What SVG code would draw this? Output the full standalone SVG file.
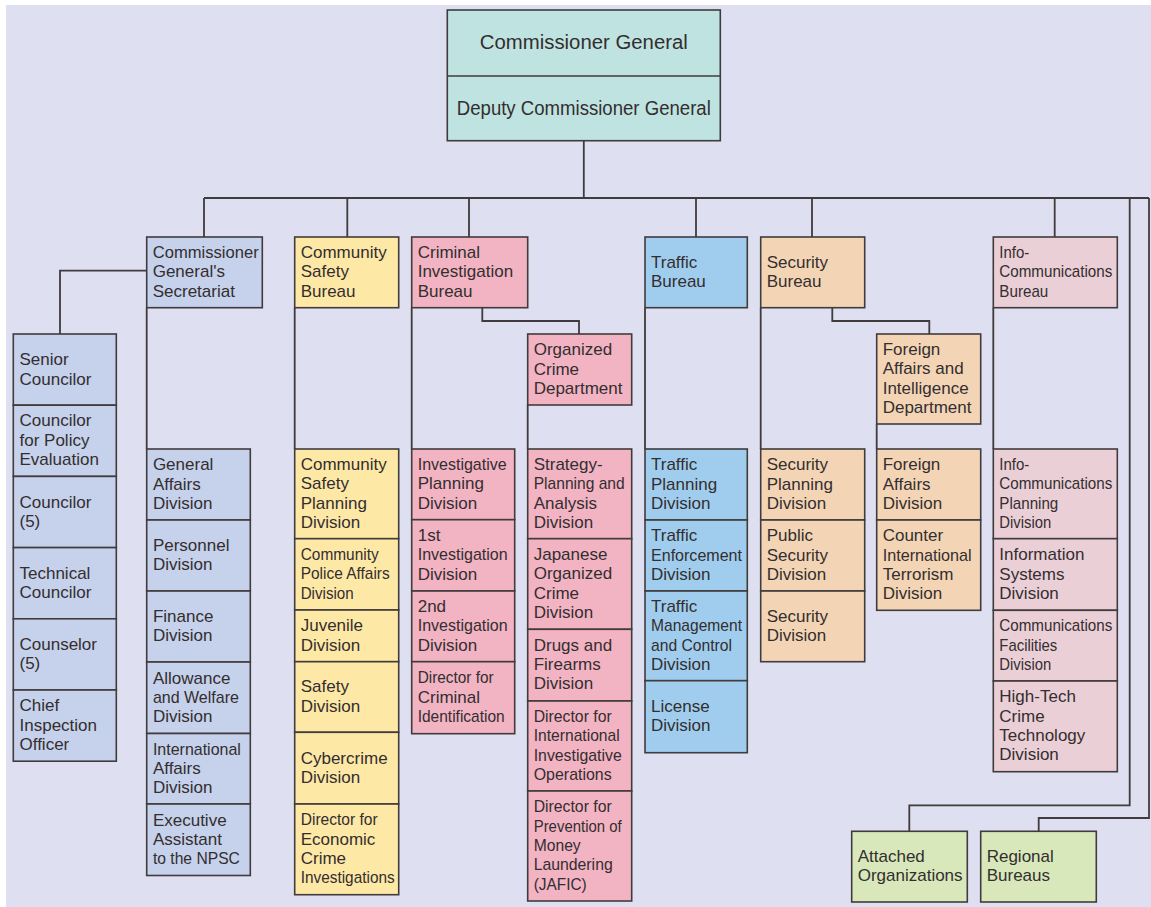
<svg xmlns="http://www.w3.org/2000/svg" width="1151" height="907" viewBox="0 0 1151 907">
<style>
.bx{stroke:#403b3c;stroke-width:1.6}
.t{font-family:"Liberation Sans",Arial,Helvetica,sans-serif;font-size:17px;fill:#332e2f}
.tc{font-family:"Liberation Sans",Arial,Helvetica,sans-serif;font-size:20px;fill:#332e2f;text-anchor:middle}
.teal{fill:#bfe3e0}.blu{fill:#c6d1eb}.yel{fill:#fee8a6}.pnk{fill:#f2b3c3}.tbl{fill:#a0cdee}.org{fill:#f3d5b6}.ipk{fill:#ebcfd7}.grn{fill:#d8e8bb}
.ln{fill:none;stroke:#403b3c;stroke-width:1.8}
</style>
<rect x="6" y="5" width="1145" height="902" fill="#dedff0"/>
<g id="connectors">
<path class="ln" d="M583.8 140.7V198M204 198H1149M204 198V237M347.3 198V237M469 198V237M696 198V237M812 198V237M1054.7 198V237"/>
<path class="ln" d="M146.7 270.7H60V334M146.7 307.7V449M294.7 307.7V449M411.7 307.7V449M482.3 307.7V321H579V334M527.7 405V449M645 307.7V449M760.7 307.7V449M832.3 307.7V321H929.3V334M876.7 424V449M993.3 307.7V449"/>
<path class="ln" d="M1129.7 198V805.3H909.3V831.3M1149 198V818H1038.7V831.3"/>
</g>
<g id="top">
<rect class="bx teal" x="447.3" y="10" width="273" height="130.7"/>
<line x1="447.3" y1="76" x2="720.3" y2="76" stroke="#403b3c" stroke-width="1.6"/>
<text class="tc" x="583.8" y="49" textLength="208" lengthAdjust="spacingAndGlyphs">Commissioner General</text>
<text class="tc" x="583.8" y="115" textLength="254" lengthAdjust="spacingAndGlyphs">Deputy Commissioner General</text>
</g>
<g id="secretariat"><rect class="bx blu" x="146.7" y="237" width="115.6" height="70.7"/>
<text class="t" x="152.7" y="258" textLength="106" lengthAdjust="spacingAndGlyphs">Commissioner</text><text class="t" x="152.7" y="277.3">General's</text><text class="t" x="152.7" y="296.6">Secretariat</text></g>
<g id="cs-bureau"><rect class="bx yel" x="294.7" y="237" width="104" height="70.7"/>
<text class="t" x="300.7" y="258">Community</text><text class="t" x="300.7" y="277.3">Safety</text><text class="t" x="300.7" y="296.6">Bureau</text></g>
<g id="cib"><rect class="bx pnk" x="411.7" y="237" width="116" height="70.7"/>
<text class="t" x="417.7" y="258">Criminal</text><text class="t" x="417.7" y="277.3">Investigation</text><text class="t" x="417.7" y="296.6">Bureau</text></g>
<g id="traffic-bureau"><rect class="bx tbl" x="645" y="237" width="102.3" height="70.7"/>
<text class="t" x="651" y="267.7">Traffic</text><text class="t" x="651" y="287">Bureau</text></g>
<g id="security-bureau"><rect class="bx org" x="760.7" y="237" width="104" height="70.7"/>
<text class="t" x="766.7" y="267.7">Security</text><text class="t" x="766.7" y="287">Bureau</text></g>
<g id="info-bureau"><rect class="bx ipk" x="993.3" y="237" width="124" height="70.7"/>
<text class="t" x="999.3" y="258" textLength="30" lengthAdjust="spacingAndGlyphs">Info-</text><text class="t" x="999.3" y="277.3" textLength="113" lengthAdjust="spacingAndGlyphs">Communications</text><text class="t" x="999.3" y="296.6" textLength="49" lengthAdjust="spacingAndGlyphs">Bureau</text></g>
<g id="ocd"><rect class="bx pnk" x="527.7" y="334" width="104" height="71"/>
<text class="t" x="533.7" y="355.2">Organized</text><text class="t" x="533.7" y="374.5">Crime</text><text class="t" x="533.7" y="393.8">Department</text></g>
<g id="faid"><rect class="bx org" x="876.7" y="334" width="104" height="90"/>
<text class="t" x="882.7" y="355">Foreign</text><text class="t" x="882.7" y="374.3">Affairs and</text><text class="t" x="882.7" y="393.6">Intelligence</text><text class="t" x="882.7" y="412.9">Department</text></g>
<g id="senior-councilor"><rect class="bx blu" x="13.3" y="334" width="103" height="71.2"/>
<text class="t" x="19.5" y="365.2">Senior</text><text class="t" x="19.5" y="384.5">Councilor</text></g>
<g id="councilor-policy"><rect class="bx blu" x="13.3" y="405.2" width="103" height="71.2"/>
<text class="t" x="19.5" y="426.4">Councilor</text><text class="t" x="19.5" y="445.7">for Policy</text><text class="t" x="19.5" y="465">Evaluation</text></g>
<g id="councilor"><rect class="bx blu" x="13.3" y="476.4" width="103" height="71.2"/>
<text class="t" x="19.5" y="507.6">Councilor</text><text class="t" x="19.5" y="526.9">(5)</text></g>
<g id="technical-councilor"><rect class="bx blu" x="13.3" y="547.6" width="103" height="71.2"/>
<text class="t" x="19.5" y="578.8">Technical</text><text class="t" x="19.5" y="598.1">Councilor</text></g>
<g id="counselor"><rect class="bx blu" x="13.3" y="618.8" width="103" height="71.2"/>
<text class="t" x="19.5" y="650">Counselor</text><text class="t" x="19.5" y="669.3">(5)</text></g>
<g id="chief-inspection"><rect class="bx blu" x="13.3" y="690" width="103" height="71.2"/>
<text class="t" x="19.5" y="711.2">Chief</text><text class="t" x="19.5" y="730.5">Inspection</text><text class="t" x="19.5" y="749.8">Officer</text></g>
<g id="general-affairs"><rect class="bx blu" x="146.7" y="449" width="103.6" height="71"/>
<text class="t" x="152.9" y="470.2">General</text><text class="t" x="152.9" y="489.5">Affairs</text><text class="t" x="152.9" y="508.8">Division</text></g>
<g id="personnel"><rect class="bx blu" x="146.7" y="520" width="103.6" height="71"/>
<text class="t" x="152.9" y="550.9">Personnel</text><text class="t" x="152.9" y="570.2">Division</text></g>
<g id="finance"><rect class="bx blu" x="146.7" y="591" width="103.6" height="71"/>
<text class="t" x="152.9" y="621.9">Finance</text><text class="t" x="152.9" y="641.2">Division</text></g>
<g id="allowance"><rect class="bx blu" x="146.7" y="662" width="103.6" height="71.5"/>
<text class="t" x="152.9" y="683.5">Allowance</text><text class="t" x="152.9" y="702.8" textLength="86" lengthAdjust="spacingAndGlyphs">and Welfare</text><text class="t" x="152.9" y="722.1">Division</text></g>
<g id="international-affairs"><rect class="bx blu" x="146.7" y="733.5" width="103.6" height="70.5"/>
<text class="t" x="152.9" y="754.5" textLength="88" lengthAdjust="spacingAndGlyphs">International</text><text class="t" x="152.9" y="773.8">Affairs</text><text class="t" x="152.9" y="793.1">Division</text></g>
<g id="executive-assistant"><rect class="bx blu" x="146.7" y="804" width="103.6" height="71.5"/>
<text class="t" x="152.9" y="825.5">Executive</text><text class="t" x="152.9" y="844.8">Assistant</text><text class="t" x="152.9" y="864.1" textLength="87" lengthAdjust="spacingAndGlyphs">to the NPSC</text></g>
<g id="cs-planning"><rect class="bx yel" x="294.7" y="449" width="104" height="89.7"/>
<text class="t" x="300.7" y="469.9">Community</text><text class="t" x="300.7" y="489.2">Safety</text><text class="t" x="300.7" y="508.5">Planning</text><text class="t" x="300.7" y="527.8">Division</text></g>
<g id="community-police"><rect class="bx yel" x="294.7" y="538.7" width="104" height="71.3"/>
<text class="t" x="300.7" y="560" textLength="78" lengthAdjust="spacingAndGlyphs">Community</text><text class="t" x="300.7" y="579.3" textLength="89" lengthAdjust="spacingAndGlyphs">Police Affairs</text><text class="t" x="300.7" y="598.6" textLength="53" lengthAdjust="spacingAndGlyphs">Division</text></g>
<g id="juvenile"><rect class="bx yel" x="294.7" y="610" width="104" height="51.7"/>
<text class="t" x="300.7" y="631.2">Juvenile</text><text class="t" x="300.7" y="650.5">Division</text></g>
<g id="safety"><rect class="bx yel" x="294.7" y="661.7" width="104" height="70.6"/>
<text class="t" x="300.7" y="692.4">Safety</text><text class="t" x="300.7" y="711.7">Division</text></g>
<g id="cybercrime"><rect class="bx yel" x="294.7" y="732.3" width="104" height="71.7"/>
<text class="t" x="300.7" y="763.5">Cybercrime</text><text class="t" x="300.7" y="782.8">Division</text></g>
<g id="economic-crime"><rect class="bx yel" x="294.7" y="804" width="104" height="90.7"/>
<text class="t" x="300.7" y="825.4" textLength="77" lengthAdjust="spacingAndGlyphs">Director for</text><text class="t" x="300.7" y="844.7">Economic</text><text class="t" x="300.7" y="864">Crime</text><text class="t" x="300.7" y="883.3" textLength="94" lengthAdjust="spacingAndGlyphs">Investigations</text></g>
<g id="investigative-planning"><rect class="bx pnk" x="411.7" y="449" width="103" height="70.7"/>
<text class="t" x="417.7" y="470" textLength="89" lengthAdjust="spacingAndGlyphs">Investigative</text><text class="t" x="417.7" y="489.3">Planning</text><text class="t" x="417.7" y="508.6">Division</text></g>
<g id="first-investigation"><rect class="bx pnk" x="411.7" y="519.7" width="103" height="71.3"/>
<text class="t" x="417.7" y="541">1st</text><text class="t" x="417.7" y="560.3" textLength="90" lengthAdjust="spacingAndGlyphs">Investigation</text><text class="t" x="417.7" y="579.6">Division</text></g>
<g id="second-investigation"><rect class="bx pnk" x="411.7" y="591" width="103" height="70.7"/>
<text class="t" x="417.7" y="612">2nd</text><text class="t" x="417.7" y="631.3" textLength="90" lengthAdjust="spacingAndGlyphs">Investigation</text><text class="t" x="417.7" y="650.6">Division</text></g>
<g id="criminal-identification"><rect class="bx pnk" x="411.7" y="661.7" width="103" height="72"/>
<text class="t" x="417.7" y="683.4" textLength="76" lengthAdjust="spacingAndGlyphs">Director for</text><text class="t" x="417.7" y="702.7">Criminal</text><text class="t" x="417.7" y="722" textLength="87" lengthAdjust="spacingAndGlyphs">Identification</text></g>
<g id="strategy-planning"><rect class="bx pnk" x="527.7" y="449" width="104" height="89.7"/>
<text class="t" x="533.7" y="469.9">Strategy-</text><text class="t" x="533.7" y="489.2" textLength="91" lengthAdjust="spacingAndGlyphs">Planning and</text><text class="t" x="533.7" y="508.5">Analysis</text><text class="t" x="533.7" y="527.8">Division</text></g>
<g id="japanese-oc"><rect class="bx pnk" x="527.7" y="538.7" width="104" height="90.6"/>
<text class="t" x="533.7" y="560">Japanese</text><text class="t" x="533.7" y="579.3">Organized</text><text class="t" x="533.7" y="598.6">Crime</text><text class="t" x="533.7" y="617.9">Division</text></g>
<g id="drugs-firearms"><rect class="bx pnk" x="527.7" y="629.3" width="104" height="71.7"/>
<text class="t" x="533.7" y="650.8">Drugs and</text><text class="t" x="533.7" y="670.1">Firearms</text><text class="t" x="533.7" y="689.4">Division</text></g>
<g id="intl-investigative"><rect class="bx pnk" x="527.7" y="701" width="104" height="90"/>
<text class="t" x="533.7" y="722" textLength="78" lengthAdjust="spacingAndGlyphs">Director for</text><text class="t" x="533.7" y="741.3" textLength="86" lengthAdjust="spacingAndGlyphs">International</text><text class="t" x="533.7" y="760.6" textLength="88" lengthAdjust="spacingAndGlyphs">Investigative</text><text class="t" x="533.7" y="779.9" textLength="78" lengthAdjust="spacingAndGlyphs">Operations</text></g>
<g id="jafic"><rect class="bx pnk" x="527.7" y="791" width="104" height="110"/>
<text class="t" x="533.7" y="812.4" textLength="78" lengthAdjust="spacingAndGlyphs">Director for</text><text class="t" x="533.7" y="831.7" textLength="88" lengthAdjust="spacingAndGlyphs">Prevention of</text><text class="t" x="533.7" y="851" textLength="47" lengthAdjust="spacingAndGlyphs">Money</text><text class="t" x="533.7" y="870.3" textLength="79" lengthAdjust="spacingAndGlyphs">Laundering</text><text class="t" x="533.7" y="889.6" textLength="53" lengthAdjust="spacingAndGlyphs">(JAFIC)</text></g>
<g id="traffic-planning"><rect class="bx tbl" x="645" y="449" width="102.3" height="71"/>
<text class="t" x="651" y="470.2">Traffic</text><text class="t" x="651" y="489.5">Planning</text><text class="t" x="651" y="508.8">Division</text></g>
<g id="traffic-enforcement"><rect class="bx tbl" x="645" y="520" width="102.3" height="71"/>
<text class="t" x="651" y="541.2">Traffic</text><text class="t" x="651" y="560.5" textLength="91" lengthAdjust="spacingAndGlyphs">Enforcement</text><text class="t" x="651" y="579.8">Division</text></g>
<g id="traffic-management"><rect class="bx tbl" x="645" y="591" width="102.3" height="89.7"/>
<text class="t" x="651" y="611.9">Traffic</text><text class="t" x="651" y="631.2" textLength="91" lengthAdjust="spacingAndGlyphs">Management</text><text class="t" x="651" y="650.5" textLength="81" lengthAdjust="spacingAndGlyphs">and Control</text><text class="t" x="651" y="669.8">Division</text></g>
<g id="license"><rect class="bx tbl" x="645" y="680.7" width="102.3" height="72"/>
<text class="t" x="651" y="712">License</text><text class="t" x="651" y="731.3">Division</text></g>
<g id="security-planning"><rect class="bx org" x="760.7" y="449" width="104" height="71"/>
<text class="t" x="766.7" y="470.2">Security</text><text class="t" x="766.7" y="489.5">Planning</text><text class="t" x="766.7" y="508.8">Division</text></g>
<g id="public-security"><rect class="bx org" x="760.7" y="520" width="104" height="71"/>
<text class="t" x="766.7" y="541.2">Public</text><text class="t" x="766.7" y="560.5">Security</text><text class="t" x="766.7" y="579.8">Division</text></g>
<g id="security-division"><rect class="bx org" x="760.7" y="591" width="104" height="70.7"/>
<text class="t" x="766.7" y="621.7">Security</text><text class="t" x="766.7" y="641">Division</text></g>
<g id="foreign-affairs"><rect class="bx org" x="876.7" y="449" width="104" height="71"/>
<text class="t" x="882.7" y="470.2">Foreign</text><text class="t" x="882.7" y="489.5">Affairs</text><text class="t" x="882.7" y="508.8">Division</text></g>
<g id="counter-terrorism"><rect class="bx org" x="876.7" y="520" width="104" height="90.3"/>
<text class="t" x="882.7" y="541.2">Counter</text><text class="t" x="882.7" y="560.5" textLength="89" lengthAdjust="spacingAndGlyphs">International</text><text class="t" x="882.7" y="579.8">Terrorism</text><text class="t" x="882.7" y="599.1">Division</text></g>
<g id="info-planning"><rect class="bx ipk" x="993.3" y="449" width="124" height="89.7"/>
<text class="t" x="999.3" y="469.9" textLength="30" lengthAdjust="spacingAndGlyphs">Info-</text><text class="t" x="999.3" y="489.2" textLength="113" lengthAdjust="spacingAndGlyphs">Communications</text><text class="t" x="999.3" y="508.5" textLength="59" lengthAdjust="spacingAndGlyphs">Planning</text><text class="t" x="999.3" y="527.8" textLength="52" lengthAdjust="spacingAndGlyphs">Division</text></g>
<g id="information-systems"><rect class="bx ipk" x="993.3" y="538.7" width="124" height="71.6"/>
<text class="t" x="999.3" y="560.2">Information</text><text class="t" x="999.3" y="579.5">Systems</text><text class="t" x="999.3" y="598.8">Division</text></g>
<g id="comm-facilities"><rect class="bx ipk" x="993.3" y="610.3" width="124" height="70.7"/>
<text class="t" x="999.3" y="631.3" textLength="113" lengthAdjust="spacingAndGlyphs">Communications</text><text class="t" x="999.3" y="650.6" textLength="58" lengthAdjust="spacingAndGlyphs">Facilities</text><text class="t" x="999.3" y="669.9" textLength="52" lengthAdjust="spacingAndGlyphs">Division</text></g>
<g id="high-tech"><rect class="bx ipk" x="993.3" y="681" width="124" height="90.7"/>
<text class="t" x="999.3" y="702.4">High-Tech</text><text class="t" x="999.3" y="721.7">Crime</text><text class="t" x="999.3" y="741">Technology</text><text class="t" x="999.3" y="760.3">Division</text></g>
<g id="attached"><rect class="bx grn" x="851.7" y="831.3" width="115.6" height="70.7"/>
<text class="t" x="857.7" y="862">Attached</text><text class="t" x="857.7" y="881.3">Organizations</text></g>
<g id="regional"><rect class="bx grn" x="980.7" y="831.3" width="115.6" height="70.7"/>
<text class="t" x="986.7" y="862">Regional</text><text class="t" x="986.7" y="881.3">Bureaus</text></g>
</svg>
